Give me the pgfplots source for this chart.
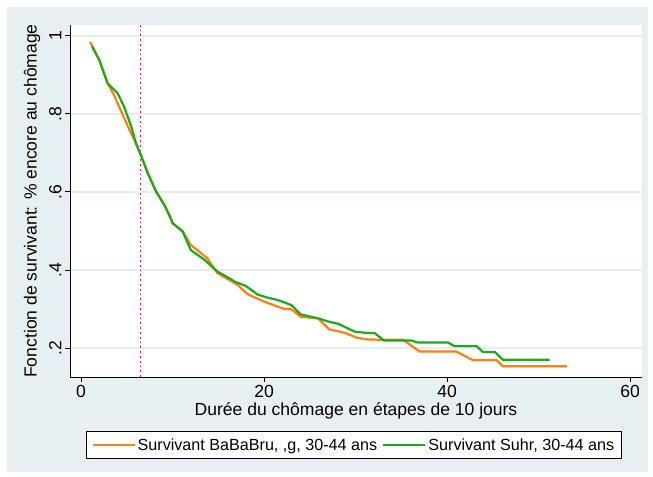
\documentclass[border=0pt]{standalone}
\usepackage{pgfplots}
\pgfplotsset{compat=1.18}
\usepackage{fontspec}
\setmainfont{Liberation Sans}

\definecolor{panel}{RGB}{232,239,242}
\definecolor{gridc}{RGB}{230,238,241}
\definecolor{sorange}{RGB}{255,128,14}
\definecolor{sgreen}{RGB}{26,170,26}
\definecolor{xlinec}{RGB}{196,28,84}

\begin{document}
\begin{tikzpicture}[x=1bp,y=1bp]
% panneau de fond
\fill[white] (0,0) rectangle (653,477);
\fill[panel] (7,5) rectangle (648,470);

\begin{axis}[
	at={(70bp,100bp)}, anchor=south west,
	scale only axis,
	width=572bp, height=352bp,
	axis background/.style={fill=white},
	axis x line=bottom,
	axis y line=left,
	axis line style={-, black, line width=0.9bp},
	tick align=outside,
	major tick length=5bp,
	tick style={black, line width=0.9bp},
	xmin=-1.2, xmax=61.3,
	ymin=0.1256, ymax=1.028,
	xtick={0,20,40,60},
	ytick={0.2,0.4,0.6,0.8,1},
	yticklabels={.2,.4,.6,.8,1},
	ymajorgrids,
	grid style={gridc, line width=1.6bp},
	/pgf/number format/assume math mode=true,
	tick label style={font=\fontsize{17.6}{20}\selectfont},
	yticklabel style={rotate=90, anchor=south},
	label style={font=\fontsize{17.6}{20}\selectfont},
	xlabel={Durée du chômage en étapes de 10 jours},
	ylabel={Fonction de survivant: \% encore au chômage},
	xlabel style={at={(axis description cs:0.5,-0.0966)}, anchor=center},
	ylabel style={at={(axis description cs:-0.0664,0.5)}, anchor=center},
	legend columns=2,
	legend image code/.code={\draw[#1] (0bp,0bp) -- (42bp,0bp);},
	legend style={
		at={(axis description cs:0.028,-0.193)}, anchor=west,
		draw=black, fill=white, line width=0.9bp,
		font=\fontsize{16.2}{18}\selectfont,
		inner xsep=5bp, inner ysep=5bp,
		/tikz/every even column/.append style={column sep=3bp},
	},
	every axis plot/.append style={line width=2.2bp},
]

% ligne verticale pointillée
\addplot[xlinec, line width=1.8bp, dash pattern=on 1.8bp off 3bp, forget plot]
	coordinates {(6.5,0.1256) (6.5,1.028)};

% Survivant Baden-Brugg
\addplot[sorange] coordinates {
	(1.0,0.985) (2.0,0.938) (2.9,0.879) (3.6,0.849) (4.4,0.806) (5.3,0.759)
	(6.0,0.725) (6.6,0.691) (7.3,0.648) (8.2,0.601) (9.1,0.567) (9.8,0.533)
	(10.0,0.520) (11.1,0.499) (12.0,0.464) (12.7,0.451) (13.8,0.430) (14.9,0.392)
	(17.1,0.362) (18.2,0.338) (20.0,0.319) (22.2,0.300) (23.0,0.299) (24.0,0.280)
	(25.9,0.276) (27.1,0.248) (28.8,0.239) (30.2,0.226) (31.3,0.222) (32.8,0.221)
	(35.2,0.221) (37.0,0.191) (41.0,0.191) (42.8,0.169) (45.4,0.169) (46.1,0.153)
	(53.1,0.153)
};
\addlegendentry{Survivant BaBaBru, ,g, 30-44 ans}

% Survivant Suhr
\addplot[sgreen] coordinates {
	(1.2,0.973) (2.0,0.938) (2.9,0.879) (4.0,0.853) (4.7,0.819) (5.5,0.767)
	(6.0,0.725) (6.6,0.691) (7.3,0.648) (8.2,0.601) (9.1,0.567) (9.8,0.533)
	(10.0,0.520) (11.1,0.499) (12.0,0.451) (13.5,0.426) (14.9,0.396) (16.4,0.376)
	(16.8,0.370) (18.0,0.359) (19.3,0.337) (20.4,0.329) (21.5,0.323) (23.0,0.310)
	(24.0,0.286) (25.9,0.276) (27.0,0.268) (28.1,0.262) (29.9,0.242) (31.0,0.239)
	(32.1,0.238) (33.1,0.219) (36.1,0.219) (36.8,0.214) (40.1,0.214) (40.8,0.205)
	(43.2,0.205) (43.9,0.190) (45.2,0.190) (46.1,0.170) (51.2,0.170)
};
\addlegendentry{Survivant Suhr, 30-44 ans\hspace{20bp}}

\end{axis}
\pgfresetboundingbox
\path (0,0) rectangle (653,477);
\end{tikzpicture}
\end{document}
